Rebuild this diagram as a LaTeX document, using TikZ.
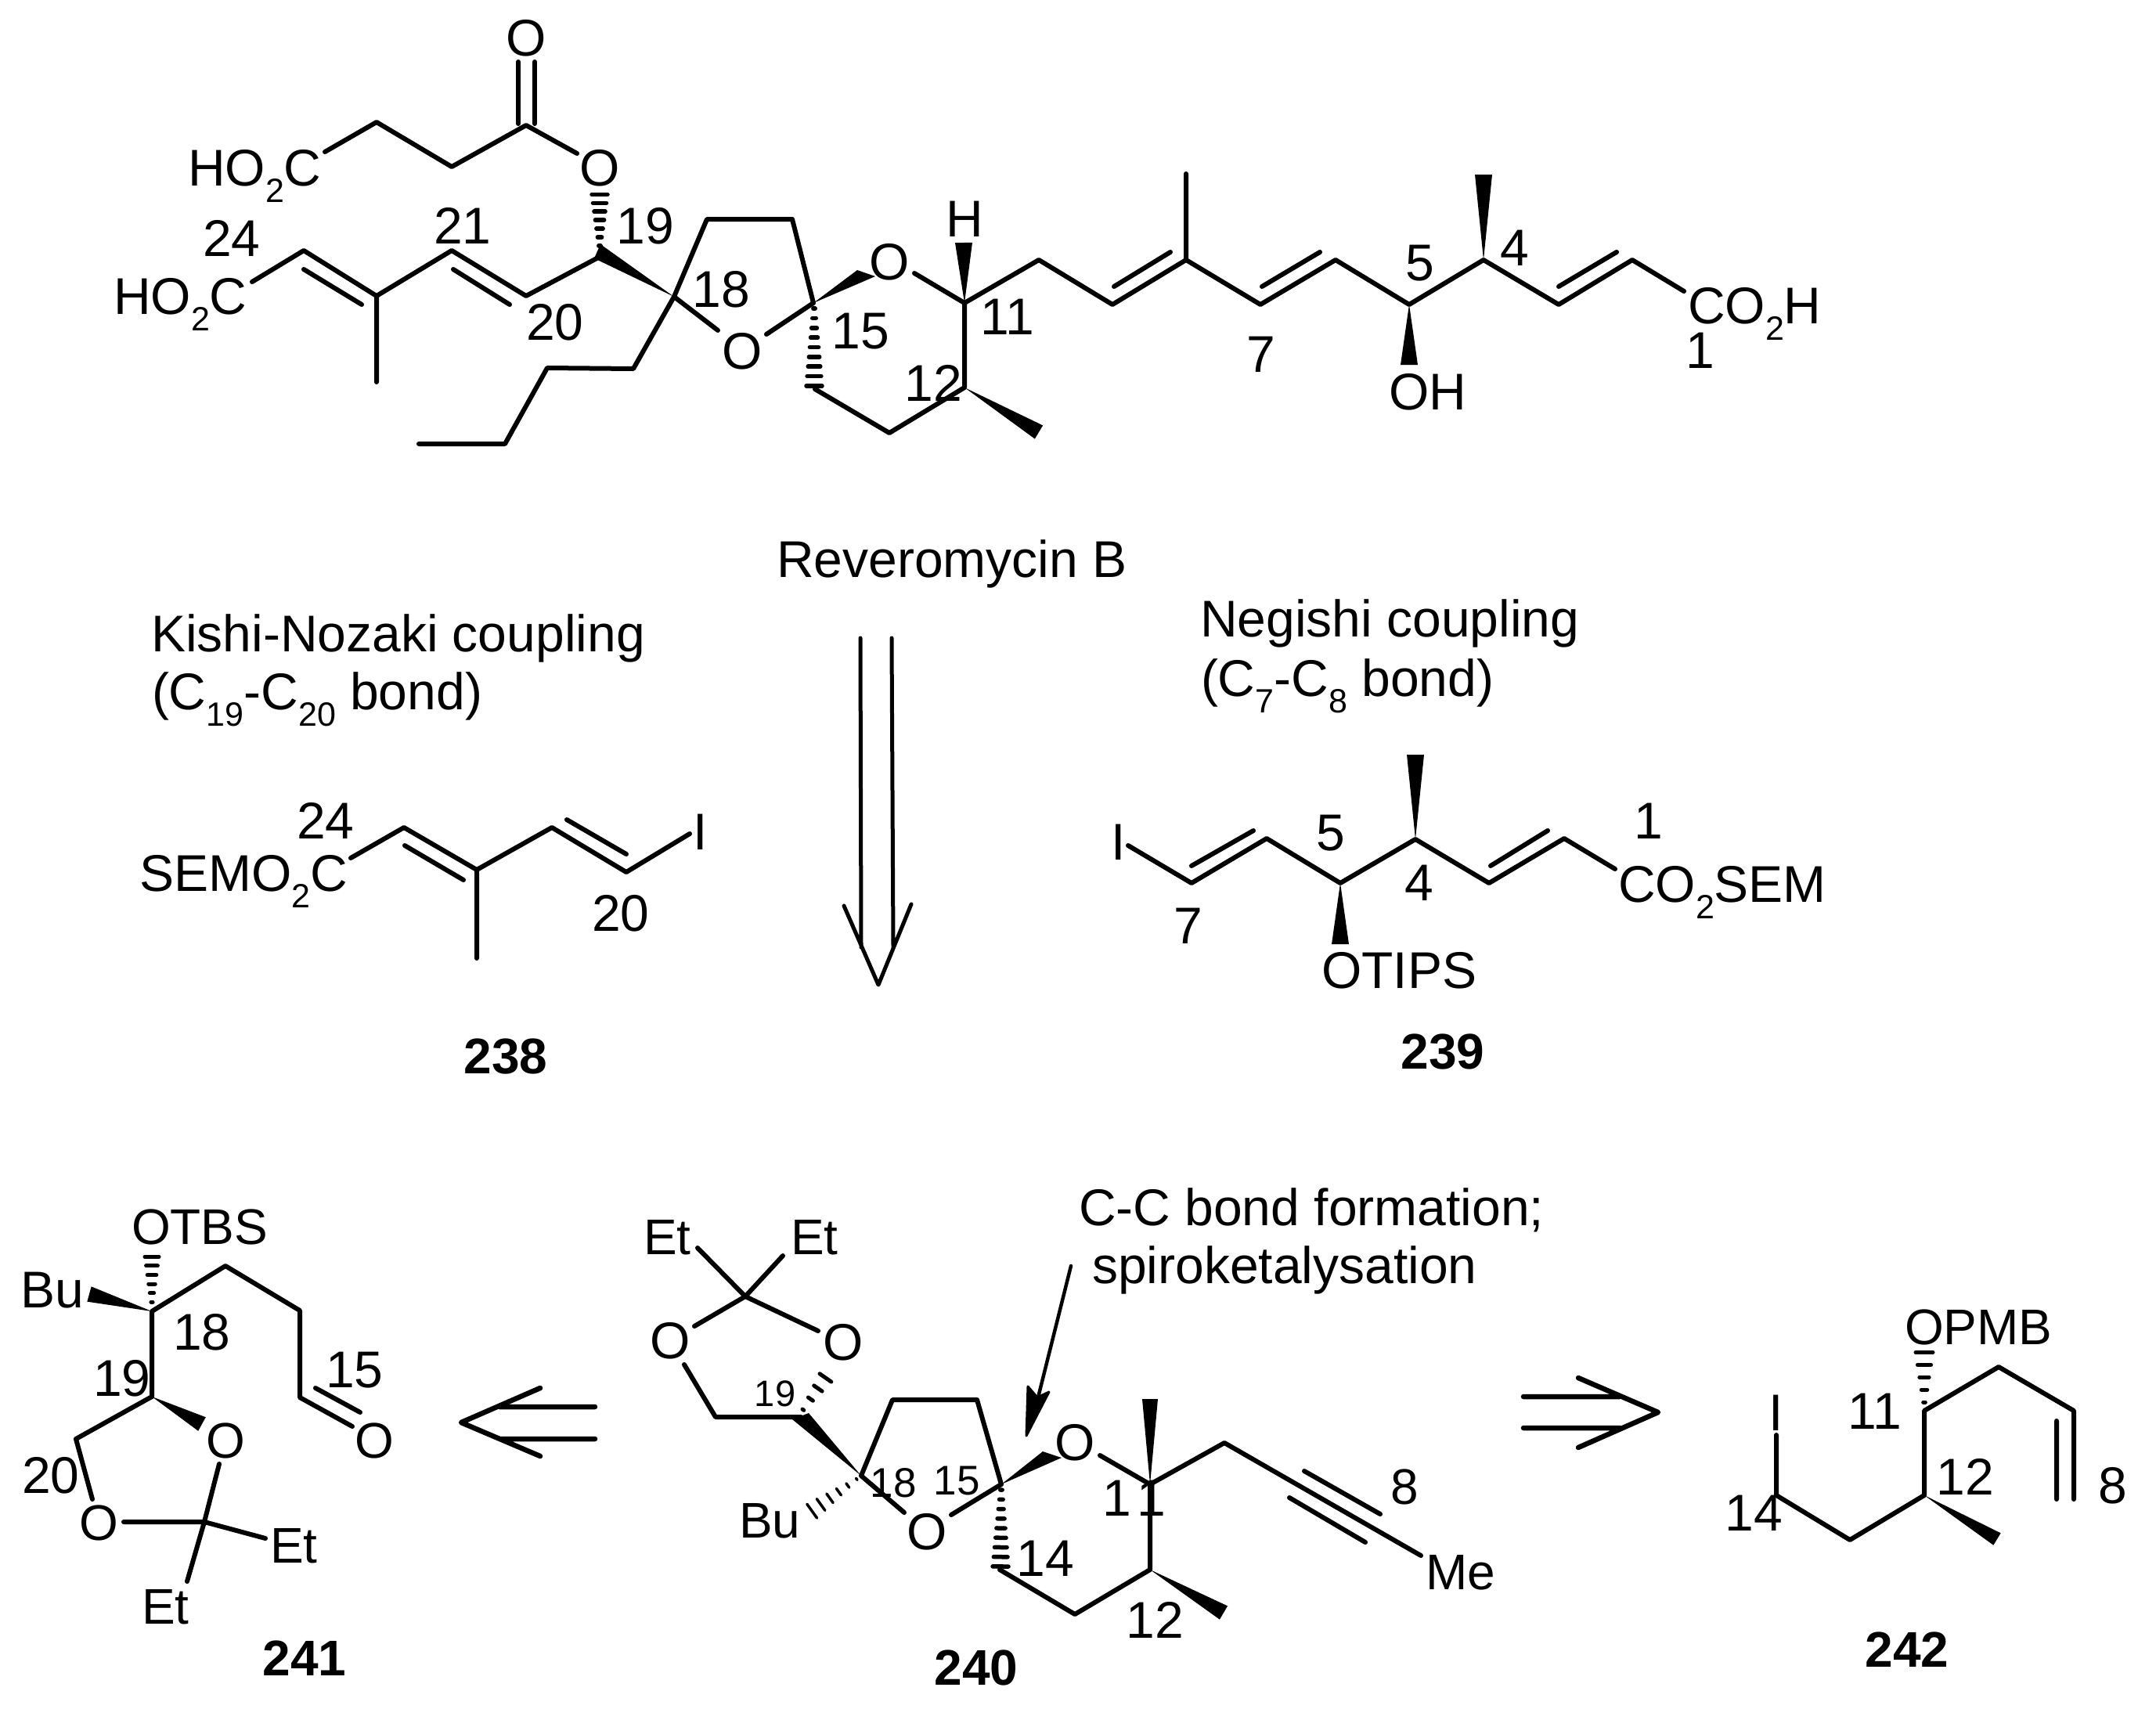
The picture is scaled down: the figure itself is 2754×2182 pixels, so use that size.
\documentclass[tikz,border=0pt]{standalone}
\usepackage{fontspec}
\setmainfont{Liberation Sans}
\usetikzlibrary{calc}
\newcommand\atm[3]{\coordinate (#1) at (#2,#3);}
\newcommand\subn[1]{\raisebox{-21pt}{\fontsize{43}{43}\selectfont #1}}
\newcommand\wedgeb[3]{\fill ($(#2)!#3 pt!90:(#1)$) -- ($(#2)!#3 pt!-90:(#1)$) -- (#1) -- cycle;}
\newcommand\wedgec[3]{\fill (#1) -- (#2) -- (#3) -- cycle;}
\newcommand\hashb[5]{\foreach \k in {0,...,#4}{%
  \pgfmathsetmacro\hT{0.03+0.95*\k/#4}%
  \pgfmathsetmacro\hW{(0.12+0.88*\k/#4)*#3}%
  \draw[line width=#5,line cap=round] ($(#1)!\hT!(#2)!\hW pt!90:(#2)$) -- ($(#1)!\hT!(#2)!\hW pt!-90:(#2)$);}}
\tikzset{
  bond/.style={line width=6pt,line cap=round,line join=round},
  thinbond/.style={line width=5pt,line cap=round,line join=round},
  txt/.style={inner sep=0pt,outer sep=0pt,font=\fontsize{66}{72}\selectfont},
  smalltxt/.style={inner sep=0pt,outer sep=0pt,font=\fontsize{64}{70}\selectfont},
  tinytxt/.style={inner sep=0pt,outer sep=0pt,font=\fontsize{53}{58}\selectfont},
  tinyertxt/.style={inner sep=0pt,outer sep=0pt,font=\fontsize{47}{52}\selectfont},
  cmpd/.style={inner sep=0pt,outer sep=0pt,font=\fontsize{64}{70}\selectfont\bfseries},
  base left/.style={anchor=base west},
}
\begin{document}
\begin{tikzpicture}[x=1pt,y=-1pt]
\useasboundingbox (0,0) rectangle (2754,2182);
\fill[white] (0,0) rectangle (2754,2182);

% ---------- Reveromycin B ----------
\atm{ta}{672}{160}\atm{tax}{662}{79}\atm{tay}{683}{79}\atm{taxb}{662}{158}\atm{tayb}{683}{158}
\atm{tb}{577}{213}\atm{tc}{481}{156}\atm{tcx}{415}{194}\atm{toe}{737}{196}
\atm{thash}{766}{247}\atm{thn}{766}{316}
\atm{t19}{766}{328}\atm{t19a}{767}{312}\atm{t19b}{759}{330}\atm{t18}{861}{379}\atm{t20}{672}{378}\atm{t21}{577}{320}
\atm{t22}{481}{378}\atm{tme}{481}{488}\atm{t23}{388}{320}\atm{t24x}{322}{360}
\atm{t20i}{579}{344}\atm{t21i}{651}{389}\atm{t22i}{388}{344}\atm{t23i}{462}{389}
\atm{t17}{903}{280}\atm{t16}{1012}{280}\atm{t15}{1039}{387}\atm{to2a}{979}{427}\atm{to2b}{917}{422}
\atm{bu1}{809}{471}\atm{bu2}{699}{470}\atm{bu3}{645}{567}\atm{bu4}{535}{567}
\atm{to3p}{1095}{345}\atm{to3q}{1118}{353}\atm{to3a}{1168}{349}\atm{t11}{1232}{387}\atm{thw}{1231}{310}
\atm{t10}{1327}{332}\atm{t12}{1232}{495}\atm{t13}{1136}{553}\atm{t14}{1041}{497}\atm{t14h}{1040}{495}\atm{t15h}{1040}{391}
\atm{t12w}{1327}{552}
\atm{t9}{1421}{389}\atm{t8}{1515}{332}\atm{t8m}{1515}{222}\atm{t9i}{1423}{366}\atm{t8i}{1495}{322}
\atm{t7}{1610}{389}\atm{t6}{1706}{332}\atm{t7i}{1612}{366}\atm{t6i}{1686}{322}
\atm{t5}{1800}{389}\atm{t4}{1895}{332}\atm{t4w}{1895}{223}\atm{t5w}{1800}{466}
\atm{t3}{1991}{389}\atm{t2}{2085}{332}\atm{t3i}{1991}{366}\atm{t2i}{2065}{322}\atm{t1x}{2151}{372}

\draw[bond] (taxb)--(tax) (tayb)--(tay);
\draw[bond] (tcx)--(tc)--(tb)--(ta)--(toe);
\draw[bond] (t24x)--(t23)--(t22)--(t21)--(t20)--(t19);
\draw[bond] (t22)--(tme) (t22i)--(t23i) (t20i)--(t21i);
\draw[bond] (bu4)--(bu3)--(bu2)--(bu1)--(t18);
\draw[bond] (t18)--(t17)--(t16)--(t15)--(to2a) (t18)--(to2b);
\draw[bond] (to3a)--(t11)--(t10)--(t9)--(t8)--(t7)--(t6)--(t5)--(t4)--(t3)--(t2)--(t1x);
\draw[bond] (t11)--(t12)--(t13)--(t14);
\draw[bond] (t9i)--(t8i) (t7i)--(t6i) (t3i)--(t2i) (t8)--(t8m);
\wedgec{t18}{t19a}{t19b}
\wedgec{t15}{to3p}{to3q}
\wedgeb{t11}{thw}{11}
\wedgeb{t12}{t12w}{10}
\wedgeb{t4}{t4w}{11}
\wedgeb{t5}{t5w}{11}
\hashb{thn}{thash}{10}{6}{5.5pt}
\hashb{t15h}{t14h}{10}{8}{5.5pt}

\node[txt,anchor=center] (tO1) at (672,49) {O};
\node[txt,base left] (tHOa) at (240,237) {HO\subn{2}C};
\node[txt,anchor=center] (tO2) at (766,215) {O};
\node[txt,base left] (tHOb) at (145,401) {HO\subn{2}C};
\node[txt,anchor=center] (tO3) at (948,449) {O};
\node[txt,anchor=center] (tO4) at (1136,335) {O};
\node[txt,anchor=center] (tH) at (1232,280) {H};
\node[txt,base left] (tOH) at (1774,523) {OH};
\node[txt,base left] (tCO) at (2156,413) {CO\subn{2}H};
\node[txt,anchor=center] (l24) at (296,304) {24};
\node[txt,anchor=center] (l21) at (591,288) {21};
\node[txt,anchor=center] (l19) at (824,289) {19};
\node[txt,anchor=center] (l20) at (709,412) {20};
\node[txt,anchor=center] (l18) at (921,370) {18};
\node[txt,anchor=center] (l15) at (1099,423) {15};
\node[txt,anchor=center] (l11) at (1287,405) {11};
\node[txt,anchor=center] (l12) at (1192,489) {12};
\node[txt,anchor=center] (l7) at (1611,453) {7};
\node[txt,anchor=center] (l5) at (1814,336) {5};
\node[txt,anchor=center] (l4) at (1935,317) {4};
\node[txt,anchor=center] (l1) at (2172,448) {1};
\node[txt,anchor=base] (tname) at (1216,737) {Reveromycin B};

% ---------- captions ----------
\node[txt,base left] (kn1) at (193,832) {Kishi-Nozaki coupling};
\node[txt,base left] (kn2) at (194,906) {(C\subn{19}-C\subn{20} bond)};
\node[txt,base left] (ne1) at (1533,813) {Negishi coupling};
\node[txt,base left] (ne2) at (1534,889) {(C\subn{7}-C\subn{8} bond)};

% ---------- retro arrow down ----------
\atm{ra1}{1099}{815}\atm{ra1e}{1100}{1210}\atm{ra2}{1139}{815}\atm{ra2e}{1141}{1210}
\atm{rah1}{1078}{1157}\atm{rah2}{1122}{1258}\atm{rah3}{1164}{1155}
\draw[thinbond] (ra1)--(ra1e) (ra2)--(ra2e) (rah1)--(rah2)--(rah3);

% ---------- 238 ----------
\atm{a1}{448}{1096}\atm{a2}{516}{1057}\atm{a3}{609}{1111}\atm{a3i}{592}{1124}\atm{a2i}{517}{1080}
\atm{am}{609}{1224}\atm{a4}{705}{1057}\atm{a5}{800}{1114}\atm{a4i}{724}{1047}\atm{a5i}{800}{1091}\atm{a6}{881}{1065}
\draw[bond] (a1)--(a2)--(a3)--(a4)--(a5)--(a6) (a3)--(am) (a2i)--(a3i) (a4i)--(a5i);
\node[txt,base left] (aSEM) at (178,1138) {SEMO\subn{2}C};
\node[txt,anchor=base] (aI) at (895,1085) {I};
\node[txt,anchor=center] (a24) at (416,1048) {24};
\node[txt,anchor=center] (a20) at (793,1167) {20};
\node[cmpd,anchor=center] (n238) at (646,1349) {238};

% ---------- 239 ----------
\atm{b1}{1441}{1080}\atm{b2}{1522}{1128}\atm{b3}{1618}{1071}\atm{b2i}{1522}{1106}\atm{b3i}{1601}{1061}
\atm{b4}{1712}{1128}\atm{b5}{1808}{1072}\atm{b5w}{1808}{964}\atm{b4w}{1712}{1206}
\atm{b6}{1902}{1128}\atm{b7}{1998}{1071}\atm{b6i}{1904}{1106}\atm{b7i}{1977}{1061}\atm{b8}{2063}{1110}
\draw[bond] (b1)--(b2)--(b3)--(b4)--(b5)--(b6)--(b7)--(b8) (b2i)--(b3i) (b6i)--(b7i);
\wedgeb{b5}{b5w}{11}
\wedgeb{b4}{b4w}{11}
\node[txt,anchor=base] (bI) at (1429,1098) {I};
\node[txt,base left] (bOT) at (1688,1262) {OTIPS};
\node[txt,base left] (bCO) at (2067,1152) {CO\subn{2}SEM};
\node[txt,anchor=center] (b1l) at (2106,1049) {1};
\node[txt,anchor=center] (b5l) at (1700,1064) {5};
\node[txt,anchor=center] (b4l) at (1813,1128) {4};
\node[txt,anchor=center] (b7l) at (1518,1183) {7};
\node[cmpd,anchor=center] (n239) at (1843,1343) {239};

% ---------- 241 ----------
\atm{c18}{194}{1675}\atm{c18h}{194}{1604}\atm{c18n}{194}{1665}\atm{c18w}{114}{1653}
\atm{c17}{288}{1617}\atm{c16}{383}{1674}\atm{c15}{383}{1785}\atm{co1}{450}{1822}\atm{ci1}{403}{1773}\atm{ci2}{460}{1804}
\atm{c19}{194}{1784}\atm{c19w}{258}{1819}\atm{c20}{97}{1838}\atm{c20o}{118}{1915}
\atm{ck1}{158}{1944}\atm{ck}{261}{1944}\atm{ck2}{280}{1870}\atm{ck3}{339}{1965}\atm{ck4}{239}{2020}
\draw[bond] (c19)--(c18)--(c17)--(c16)--(c15)--(co1) (ci1)--(ci2);
\draw[bond] (c19)--(c20)--(c20o) (ck1)--(ck)--(ck2) (ck)--(ck3) (ck)--(ck4);
\wedgeb{c18}{c18w}{10}
\wedgeb{c19}{c19w}{10}
\hashb{c18n}{c18h}{9}{5}{5pt}
\node[smalltxt,base left] (cOT) at (168,1589) {OTBS};
\node[txt,base left] (cBu) at (26,1670) {Bu};
\node[smalltxt,anchor=center] (cO1) at (478,1840) {O};
\node[smalltxt,anchor=center] (cO2) at (288,1840) {O};
\node[smalltxt,anchor=center] (cO3) at (126,1945) {O};
\node[smalltxt,base left] (cE1) at (345,1996) {Et};
\node[smalltxt,base left] (cE2) at (181,2074) {Et};
\node[txt,anchor=center] (c15l) at (453,1750) {15};
\node[txt,anchor=center] (c18l) at (258,1702) {18};
\node[txt,anchor=center] (c19l) at (156,1761) {19};
\node[txt,anchor=center] (c20l) at (65,1885) {20};
\node[cmpd,anchor=center] (n241) at (389,2118) {241};

% ---------- arrow 241 <= 240 ----------
\atm{la1}{760}{1797}\atm{la1e}{638}{1797}\atm{la2}{760}{1838}\atm{la2e}{638}{1838}
\atm{lh1}{690}{1773}\atm{lh2}{589}{1817}\atm{lh3}{690}{1860}
\draw[bond,line width=6.5pt] (la1)--(la1e) (la2)--(la2e) (lh1)--(lh2)--(lh3);

% ---------- 240 ----------
\atm{dk}{952}{1656}\atm{de1}{891}{1594}\atm{de2}{1000}{1604}\atm{do1}{887}{1694}\atm{do2}{1045}{1700}
\atm{dc1}{874}{1743}\atm{dc2}{914}{1810}\atm{d19}{1023}{1810}\atm{d19h}{1025}{1802}\atm{d19o}{1055}{1759}\atm{d19a}{1012}{1813}\atm{d19b}{1033}{1805}
\atm{d18}{1100}{1885}\atm{d17}{1140}{1788}\atm{d16}{1248}{1788}\atm{d15}{1279}{1896}\atm{dxo1}{1215}{1935}\atm{dxo2}{1155}{1932}
\atm{dbuh}{1096}{1888}\atm{dbuw}{1036}{1931}
\atm{d15p}{1332}{1854}\atm{d15q}{1356}{1862}\atm{do3}{1405}{1859}\atm{d11}{1469}{1896}\atm{d11w}{1469}{1787}
\atm{d10}{1564}{1843}\atm{dme}{1815}{1987}\atm{dt1}{1666}{1879}\atm{dt2}{1763}{1934}\atm{dt3}{1647}{1913}\atm{dt4}{1744}{1970}
\atm{d12}{1469}{2005}\atm{d12w}{1563}{2060}\atm{d13}{1373}{2062}\atm{d14}{1277}{2005}\atm{d14h}{1278}{2003}\atm{d15h}{1279}{1900}
\draw[bond] (de1)--(dk)--(de2) (dk)--(do1) (dk)--(do2) (dc1)--(dc2)--(d19);
\draw[bond] (d18)--(d17)--(d16)--(d15)--(dxo1) (d18)--(dxo2);
\draw[bond] (do3)--(d11)--(d10)--(dme) (d11)--(d12)--(d13)--(d14) (dt1)--(dt2) (dt3)--(dt4);
\wedgec{d18}{d19a}{d19b}
\wedgec{d15}{d15p}{d15q}
\wedgeb{d11}{d11w}{10}
\wedgeb{d12}{d12w}{10}
\hashb{d19h}{d19o}{9}{3}{5pt}
\hashb{dbuh}{dbuw}{11}{5}{3.5pt}
\hashb{d15h}{d14h}{10}{8}{5.5pt}
\node[smalltxt,base left] (dE1) at (822,1602) {Et};
\node[smalltxt,base left] (dE2) at (1010,1602) {Et};
\node[txt,anchor=center] (dO1) at (856,1713) {O};
\node[txt,anchor=center] (dO2) at (1077,1715) {O};
\node[txt,anchor=center] (dO3) at (1184,1957) {O};
\node[txt,anchor=center] (dO4) at (1373,1843) {O};
\node[smalltxt,base left] (dBu) at (944,1964) {Bu};
\node[smalltxt,base left] (dMe) at (1821,2030) {Me};
\node[tinyertxt,anchor=center] (d19l) at (990,1780) {19};
\node[tinytxt,anchor=center] (d18l) at (1141,1894) {18};
\node[tinytxt,anchor=center] (d15l) at (1222,1891) {15};
\node[txt,anchor=center] (d11l) at (1449,1914) {1\kern7pt 1};
\node[txt,anchor=center] (d14l) at (1335,1991) {14};
\node[txt,anchor=center] (d12l) at (1475,2069) {12};
\node[smalltxt,anchor=center] (d8l) at (1794,1899) {8};
\node[cmpd,anchor=center] (n240) at (1247,2130) {240};
\node[txt,base left] (dc1t) at (1378,1565) {C-C bond formation;};
\node[txt,base left] (dc2t) at (1395,1639) {spiroketalysation};
\atm{da1}{1368}{1617}\atm{da2}{1326}{1785}\atm{dah1}{1311}{1834}\atm{dah2}{1313}{1771}\atm{dah3}{1325}{1785}\atm{dah4}{1340}{1778}
\draw[thinbond,line width=4.5pt] (da1)--(da2);
\filldraw[line width=3pt,line join=round] (dah1)--(dah2)--(dah3)--(dah4)--cycle;

% ---------- arrow 240 => 242 ----------
\atm{ra1x}{1946}{1784}\atm{ra1y}{2069}{1784}\atm{ra2x}{1946}{1824}\atm{ra2y}{2069}{1824}
\atm{rh1}{2016}{1760}\atm{rh2}{2118}{1804}\atm{rh3}{2016}{1849}
\draw[bond,line width=6.5pt] (ra1x)--(ra1y) (ra2x)--(ra2y) (rh1)--(rh2)--(rh3);

% ---------- 242 ----------
\atm{e14}{2269}{1910}\atm{e14i}{2269}{1833}\atm{e13}{2363}{1967}\atm{e12}{2458}{1910}\atm{e11}{2458}{1802}
\atm{e10}{2553}{1746}\atm{e9}{2649}{1802}\atm{e8}{2649}{1915}\atm{e9i}{2627}{1815}\atm{e8i}{2627}{1915}
\atm{e11h}{2458}{1793}\atm{e11o}{2458}{1726}\atm{e12w}{2551}{1966}
\draw[bond] (e14i)--(e14)--(e13)--(e12)--(e11)--(e10)--(e9)--(e8) (e9i)--(e8i);
\wedgeb{e12}{e12w}{9}
\hashb{e11h}{e11o}{11}{4}{5pt}
\node[txt,anchor=base] (eI) at (2269,1827) {I};
\node[smalltxt,base left] (eOP) at (2433,1717) {OPMB};
\node[txt,anchor=center] (e11l) at (2395,1803) {11};
\node[txt,anchor=center] (e12l) at (2510,1886) {12};
\node[txt,anchor=center] (e14l) at (2240,1933) {14};
\node[txt,anchor=center] (e8l) at (2699,1898) {8};
\node[cmpd,anchor=center] (n242) at (2436,2107) {242};
\end{tikzpicture}
\end{document}
